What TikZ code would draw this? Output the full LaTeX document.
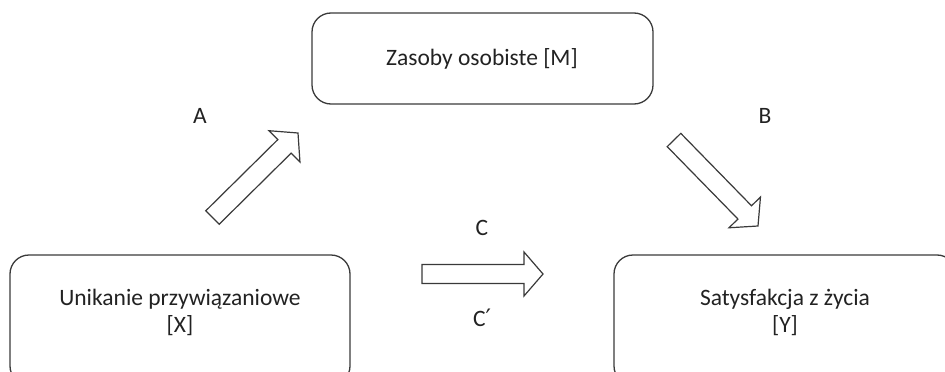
\documentclass[tikz,border=0pt]{standalone}
\usepackage{fontspec}
\setmainfont{Carlito}
\newfontfamily\symf{DejaVu Sans}
\usetikzlibrary{calc}
\definecolor{linec}{HTML}{3A3A3A}
\definecolor{textc}{HTML}{222222}
\tikzset{
  box/.style={draw=linec, line width=1.3pt, rounded corners=19pt},
  lbl/.style={text=textc, font=\fontsize{23.5}{27}\selectfont, align=center, inner sep=0pt},
  blockarrow/.style={draw=linec, line width=1.2pt, fill=white, line join=miter},
}
\newcommand\blkarrow[3]{%
  \coordinate (#1-hb) at ($(#3)!19pt!(#2)$);
  \draw[blockarrow] ($(#2)!9.5pt!90:(#3)$) -- ($(#1-hb)!9.5pt!-90:(#2)$)
    -- ($(#1-hb)!22pt!-90:(#2)$) -- (#3) -- ($(#1-hb)!22pt!90:(#2)$)
    -- ($(#1-hb)!9.5pt!90:(#2)$) -- ($(#2)!9.5pt!-90:(#3)$) -- cycle;}
\begin{document}
\begin{tikzpicture}[x=1pt,y=-1pt]
\useasboundingbox (0,0) rectangle (945,372);
\clip (0,0) rectangle (945,372);
% boxes
\draw[box] (312,13) rectangle (653,104);
\draw[box] (10,255) rectangle (350,385);
\draw[box] (614,255) rectangle (956,385);
\node[lbl] (m) at (482,59) {Zasoby osobiste [M]};
\node[lbl] (x) at (180,312) {Unikanie przywiązaniowe\\{[X]}};
\node[lbl] (y) at (785,312) {Satysfakcja z życia\\{[Y]}};
% labels
\node[lbl] (la) at (200,116) {A};
\node[lbl] (lb) at (765,116) {B};
\node[lbl] (lc) at (482,228) {C};
\node[lbl] (lcp) at (482,318) {C{\symf\fontsize{24}{26}\selectfont ′}};
% arrows
\coordinate (at) at (212.5,217.5);
\coordinate (ap) at (298,133);
\coordinate (bt) at (674,140);
\coordinate (bp) at (758,226);
\coordinate (ct) at (422,274);
\coordinate (cp) at (543,274);
\blkarrow{a}{at}{ap}
\blkarrow{b}{bt}{bp}
\blkarrow{c}{ct}{cp}
\end{tikzpicture}
\end{document}
